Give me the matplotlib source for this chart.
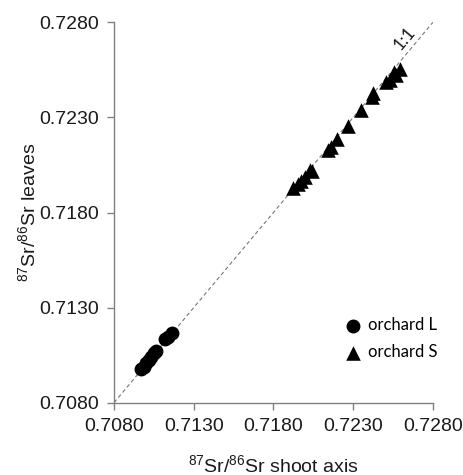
import matplotlib
matplotlib.use("Agg")
import matplotlib.pyplot as plt

plt.rcParams["mathtext.fontset"] = "custom"
plt.rcParams["mathtext.rm"] = "Liberation Sans"
plt.rcParams["mathtext.it"] = "Liberation Sans:italic"
plt.rcParams["mathtext.bf"] = "Liberation Sans:bold"

# 87Sr/86Sr ratios: shoot axis (x) vs leaves (y)
orchard_L_shoot = [0.70972, 0.70986, 0.71003, 0.71019, 0.71034, 0.71051, 0.71066,
                   0.71122, 0.71139, 0.71166]
orchard_L_leaves = [0.70976, 0.70989, 0.71007, 0.71025, 0.71039, 0.71060, 0.71073,
                    0.71133, 0.71147, 0.71165]

orchard_S_shoot = [0.71922, 0.71954, 0.71975, 0.71996, 0.72031, 0.72040, 0.72142,
                   0.72163, 0.72201, 0.72267, 0.72351, 0.72424, 0.72420, 0.72508,
                   0.72533, 0.72556, 0.72591, 0.72571]
orchard_S_leaves = [0.71927, 0.71948, 0.71967, 0.71988, 0.72024, 0.72018, 0.72129,
                    0.72146, 0.72185, 0.72255, 0.72339, 0.72430, 0.72406, 0.72488,
                    0.72497, 0.72540, 0.72553, 0.72523]

ticks = [0.7080, 0.7130, 0.7180, 0.7230, 0.7280]
tick_labels = ["0.7080", "0.7130", "0.7180", "0.7230", "0.7280"]

fig = plt.figure(figsize=(4.63, 4.75), dpi=100)
ax = fig.add_axes([0.2462, 0.1522, 0.6888, 0.8008])

lo, hi = ticks[0], ticks[-1]
ax.plot([lo, hi], [lo, hi], linestyle=(0, (3.5, 2.5)), color="#777777", linewidth=0.8, zorder=1)

ax.scatter(orchard_L_shoot, orchard_L_leaves, marker="o", s=100, color="black",
           linewidths=0, label="orchard L", zorder=3)
ax.scatter(orchard_S_shoot, orchard_S_leaves, marker="^", s=110, color="black",
           linewidths=0, label="orchard S", zorder=3)

ax.set_xlim(lo, hi)
ax.set_ylim(lo, hi)
ax.set_xticks(ticks)
ax.set_yticks(ticks)
ax.set_xticklabels(tick_labels, fontfamily="Liberation Sans", fontsize=14, color="#1a1a1a")
ax.set_yticklabels(tick_labels, fontfamily="Liberation Sans", fontsize=14, color="#1a1a1a")

for side in ("top", "right"):
    ax.spines[side].set_visible(False)
for side in ("left", "bottom"):
    ax.spines[side].set_color("#808080")
    ax.spines[side].set_linewidth(1.0)
ax.tick_params(direction="out", length=5, width=1.0, color="#808080", pad=6)

ax.set_xlabel(r"$^{87}$Sr/$^{86}$Sr shoot axis", fontfamily="Liberation Sans",
              fontsize=14, color="#1a1a1a", labelpad=14)
ax.set_ylabel(r"$^{87}$Sr/$^{86}$Sr leaves", fontfamily="Liberation Sans",
              fontsize=14, color="#1a1a1a", labelpad=0)

ax.text(0.72625, 0.72715, "1:1", rotation=50, fontfamily="Lato", fontsize=12.5,
        color="#1a1a1a", ha="center", va="center")

leg = ax.legend(loc="lower right", bbox_to_anchor=(1.036, 0.095), frameon=False,
                prop={"family": "Lato", "size": 12}, handletextpad=0.4,
                handlelength=1.0, labelspacing=0.65, borderaxespad=0)

fig.savefig("out.png", dpi=100)
